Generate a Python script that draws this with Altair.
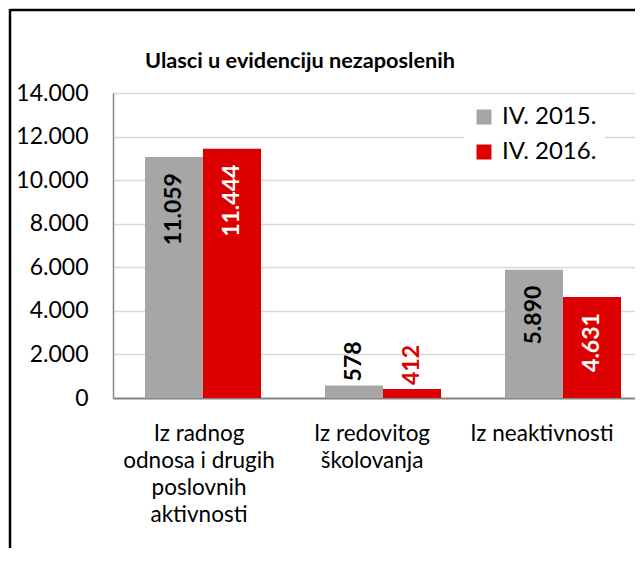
import altair as alt
import pandas as pd

# ---- data ----
categories = [
    "Iz radnog\nodnosa i drugih\nposlovnih\naktivnosti",
    "Iz redovitog\nškolovanja",
    "Iz neaktivnosti",
]
series = ["IV. 2015.", "IV. 2016."]
values_2015 = [11059, 578, 5890]
values_2016 = [11444, 412, 4631]
y_ticks = [0, 2000, 4000, 6000, 8000, 10000, 12000, 14000]
title_text = "Ulasci u evidenciju nezaposlenih"
series_colors = ["#A6A6A6", "#DD0000"]

rows = []
for i, c in enumerate(categories):
    rows.append({"cat": c, "series": series[0], "value": values_2015[i]})
    rows.append({"cat": c, "series": series[1], "value": values_2016[i]})
df = pd.DataFrame(rows)

FONT = "Lato"
W, H = 522, 305

x_enc = alt.X(
    "cat:N",
    sort=categories,
    scale=alt.Scale(paddingInner=0.35556, paddingOuter=0.12778, align=0.6957),
    axis=alt.Axis(
        title=None,
        ticks=False,
        grid=False,
        domainColor="#868686",
        domainWidth=2,
        labelAngle=0,
        labelExpr="split(datum.label, '\\n')",
        labelFont=FONT,
        labelFontSize=22.5,
        labelColor="black",
        labelLineHeight=27,
        labelPadding=24,
        labelLimit=0,
        labelOverlap=False,
        labelBound=False,
        labelBaseline="top",
        labelOffset=alt.ExprRef(
            expr="datum.index < 0.25 ? -4 : (datum.index < 0.75 ? -11 : -21)"
        ),
    ),
)
xoff_enc = alt.XOffset("series:N", sort=series, scale=alt.Scale(paddingInner=0, paddingOuter=0))
y_enc = alt.Y(
    "value:Q",
    scale=alt.Scale(domain=[0, 14000], nice=False),
    axis=alt.Axis(
        title=None,
        values=y_ticks,
        ticks=False,
        labelExpr="replace(format(datum.value, ','), ',', '.')",
        labelFont=FONT,
        labelFontSize=23,
        labelColor="black",
        labelPadding=25,
        domainColor="#868686",
        domainWidth=1.5,
        gridColor="#D9D9D9",
        gridWidth=1.3,
    ),
)

base = alt.Chart(df).transform_calculate(
    lbl="replace(format(datum.value, ','), ',', '.')",
    lblcol="datum.series == 'IV. 2016.' ? (datum.value >= 2000 ? 'white' : '#DD0000') : 'black'",
)

bars = base.mark_bar().encode(
    x=x_enc,
    xOffset=xoff_enc,
    y=y_enc,
    color=alt.Color(
        "series:N",
        sort=series,
        scale=alt.Scale(domain=series, range=series_colors),
        legend=alt.Legend(
            title=None,
            orient="none",
            legendX=351,
            legendY=4,
            symbolType="square",
            symbolSize=225,
            symbolStrokeWidth=0,
            labelFont=FONT,
            labelFontSize=24,
            labelColor="black",
            labelOffset=6,
            rowPadding=11,
            fillColor="white",
            padding=8,
        ),
    ),
)

text_in = base.transform_filter("datum.value >= 2000").mark_text(
    angle=270, align="right", baseline="middle", dx=-16,
    font=FONT, fontSize=23, fontWeight="bold",
).encode(
    x=alt.X("cat:N", sort=categories),
    xOffset=alt.XOffset("series:N", sort=series),
    y="value:Q",
    text="lbl:N",
    color=alt.Color("lblcol:N", scale=None, legend=None),
)

text_out = base.transform_filter("datum.value < 2000").mark_text(
    angle=270, align="left", baseline="middle", dx=4,
    font=FONT, fontSize=23, fontWeight="bold",
).encode(
    x=alt.X("cat:N", sort=categories),
    xOffset=alt.XOffset("series:N", sort=series),
    y="value:Q",
    text="lbl:N",
    color=alt.Color("lblcol:N", scale=None, legend=None),
)

one = alt.Data(values=[{"t": title_text}])

title = alt.Chart(one).mark_text(
    font=FONT, fontSize=21.7, fontWeight="bold", color="black",
    align="center", baseline="alphabetic",
).encode(x=alt.value(187), y=alt.value(-25), text="t:N")

frame_top = alt.Chart(one).mark_rule(color="black", strokeWidth=2.5).encode(
    x=alt.value(-103), x2=alt.value(W), y=alt.value(-83)
)
frame_left = alt.Chart(one).mark_rule(color="black", strokeWidth=2.5).encode(
    x=alt.value(-103), y=alt.value(-84), y2=alt.value(470)
)

chart = alt.layer(bars, text_in, text_out, title, frame_top, frame_left).properties(
    width=W,
    height=H,
    autosize="none",
    padding={"left": 105, "top": 85, "right": 0, "bottom": 150},
).configure_view(stroke=None)

chart.save("out.html", embed_options={"renderer": "svg", "actions": False})
